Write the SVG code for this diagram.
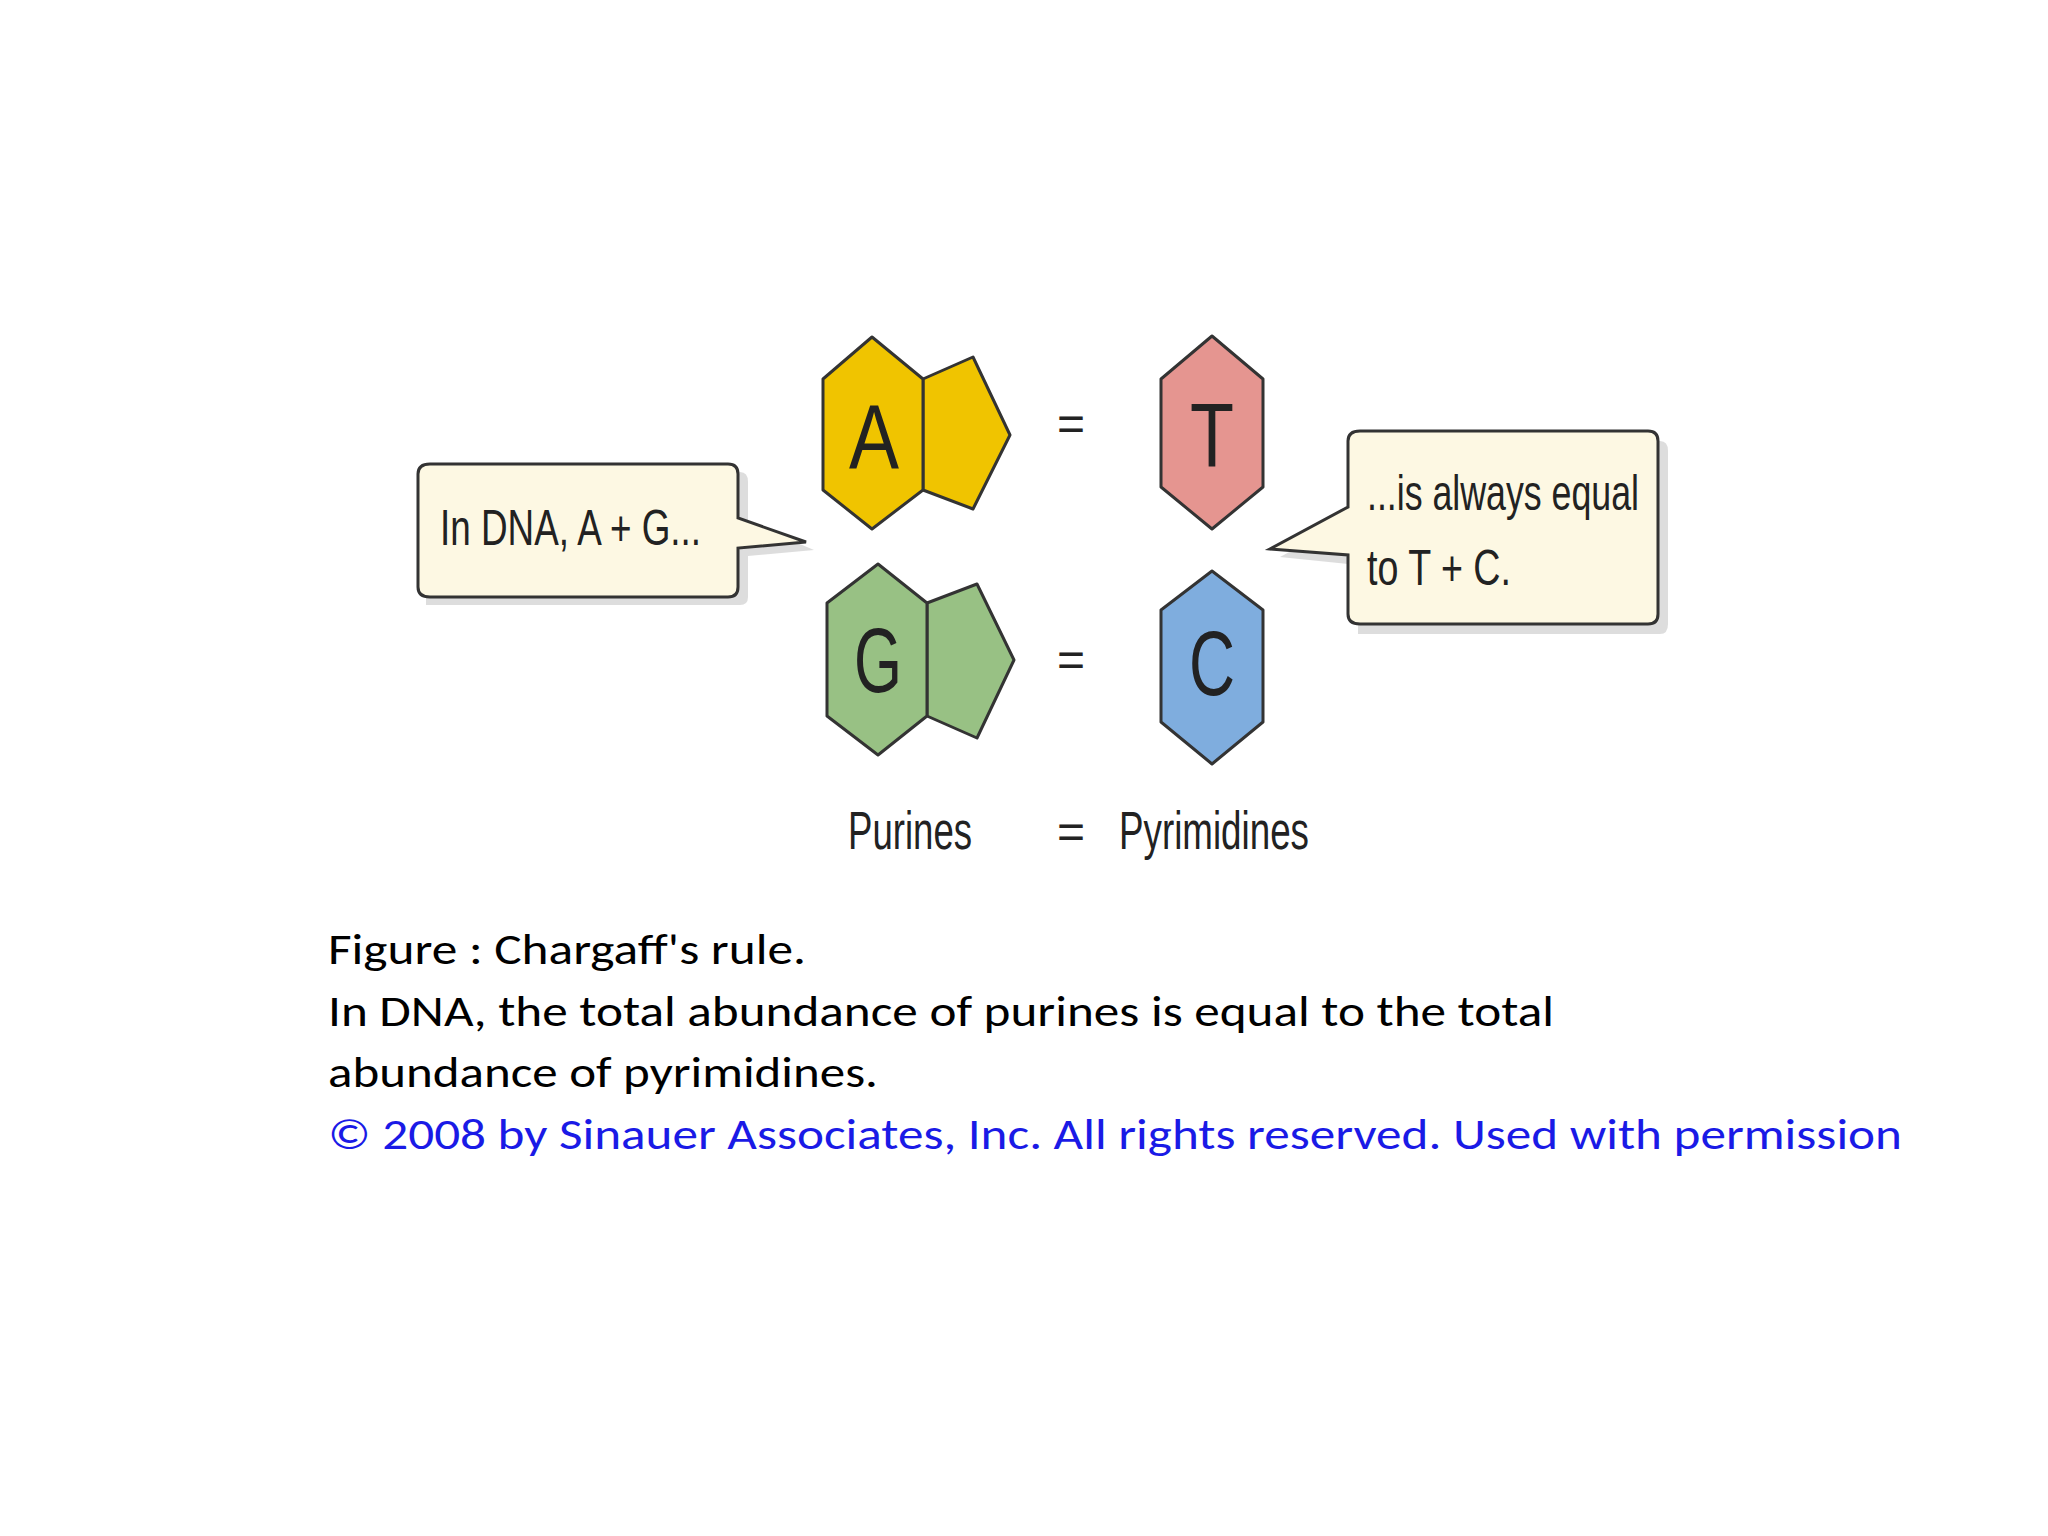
<svg xmlns="http://www.w3.org/2000/svg" width="2048" height="1536" viewBox="0 0 2048 1536">
<style>
.s{stroke:#333;stroke-width:3;stroke-linejoin:round}
.lab{font-family:"Liberation Sans",Arial,sans-serif;fill:#222}
.cap{font-family:"Carlito","Liberation Sans",Arial,sans-serif;font-size:44px;fill:#000}
.bub{fill:#fdf8e3;stroke:#333;stroke-width:3}
.sh{fill:#bbb;opacity:0.5}
</style>
<rect width="2048" height="1536" fill="#fff"/>
<g id="bubble-left">
<path class="sh" d="M426 472 H740 Q748 472 748 482 V522 L814 550 L748 556 V597 Q748 605 740 605 H426 Q426 605 426 597Z"/>
<path class="bub" d="M430 464 H728 Q738 464 738 474 V518 L806 542 L738 548 V587 Q738 597 728 597 H430 Q418 597 418 587 V474 Q418 464 430 464Z"/>
<text class="lab" x="440" y="545" font-size="50" textLength="261" lengthAdjust="spacingAndGlyphs">In DNA, A + G...</text>
</g>
<g id="bubble-right">
<path class="sh" d="M1358 441 H1660 Q1668 441 1668 451 V624 Q1668 634 1660 634 H1358 V565 L1280 557 L1358 515Z"/>
<path class="bub" d="M1360 431 H1648 Q1658 431 1658 441 V614 Q1658 624 1648 624 H1360 Q1348 624 1348 614 V555 L1270 549 L1348 507 V441 Q1348 431 1360 431Z"/>
<text class="lab" x="1367" y="510" font-size="50" textLength="272" lengthAdjust="spacingAndGlyphs">...is always equal</text>
<text class="lab" x="1367" y="585" font-size="50" textLength="144" lengthAdjust="spacingAndGlyphs">to T + C.</text>
</g>
<g id="node-A">
<polygon class="s" fill="#f0c400" points="923,379 973,357 1010,435 973,509 923,490"/>
<polygon class="s" fill="#f0c400" points="872,337 923,379 923,490 872,529 823,490 823,379"/>
<text class="lab" x="874" y="468" font-size="90" text-anchor="middle" textLength="50" lengthAdjust="spacingAndGlyphs">A</text>
</g>
<g id="node-G">
<polygon class="s" fill="#98c184" points="927,603 977,584 1014,660 977,738 927,716"/>
<polygon class="s" fill="#98c184" points="878,564 927,603 927,716 878,755 827,716 827,603"/>
<text class="lab" x="878" y="692" font-size="90" text-anchor="middle" textLength="48" lengthAdjust="spacingAndGlyphs">G</text>
</g>
<g id="node-T">
<polygon class="s" fill="#e59590" points="1212,336 1263,379 1263,487 1212,529 1161,487 1161,379"/>
<text class="lab" x="1212" y="467" font-size="90" text-anchor="middle" textLength="44" lengthAdjust="spacingAndGlyphs">T</text>
</g>
<g id="node-C">
<polygon class="s" fill="#7fadde" points="1212,571 1263,610 1263,722 1212,764 1161,722 1161,610"/>
<text class="lab" x="1212" y="695" font-size="90" text-anchor="middle" textLength="46" lengthAdjust="spacingAndGlyphs">C</text>
</g>
<g id="labels">
<text class="lab" x="1071" y="440" font-size="48" text-anchor="middle">=</text>
<text class="lab" x="1071" y="676" font-size="48" text-anchor="middle">=</text>
<text class="lab" x="1071" y="848" font-size="48" text-anchor="middle">=</text>
<text class="lab" x="848" y="849" font-size="54" textLength="124" lengthAdjust="spacingAndGlyphs">Purines</text>
<text class="lab" x="1119" y="849" font-size="54" textLength="190" lengthAdjust="spacingAndGlyphs">Pyrimidines</text>
</g>
<g id="caption">
<text class="cap" x="328" y="964" textLength="478" lengthAdjust="spacingAndGlyphs">Figure : Chargaff's rule.</text>
<text class="cap" x="328" y="1026" textLength="1226" lengthAdjust="spacingAndGlyphs">In DNA, the total abundance of purines is equal to the total</text>
<text class="cap" x="328" y="1087" textLength="550" lengthAdjust="spacingAndGlyphs">abundance of pyrimidines.</text>
<text class="cap" x="328" y="1149" fill="#1a1ae6" style="fill:#1a1ae6" textLength="1574" lengthAdjust="spacingAndGlyphs">© 2008 by Sinauer Associates, Inc. All rights reserved. Used with permission</text>
</g>
<g id="connectors"></g>
</svg>
